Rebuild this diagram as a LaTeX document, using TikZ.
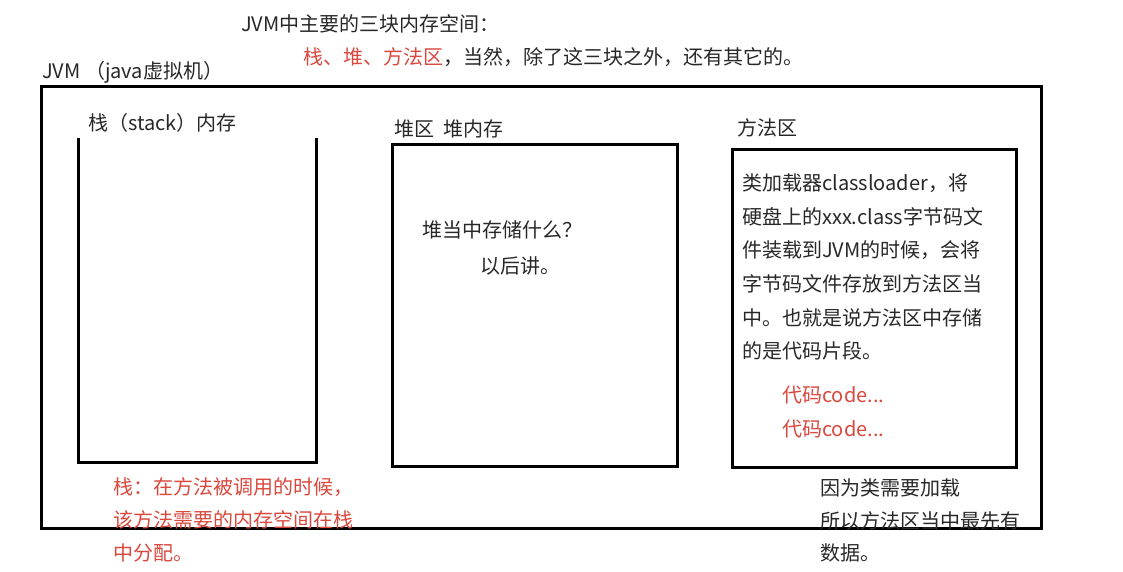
\documentclass[tikz,border=0pt]{standalone}
\usepackage{fontspec}
\setmainfont{Noto Sans CJK SC}
\definecolor{txt}{RGB}{40,40,40}
\definecolor{hl}{RGB}{218,72,62}
\begin{document}
\begin{tikzpicture}[x=1pt,y=-1pt,
  frame/.style={line width=3pt,draw=black},
  lbl/.style={anchor=base west,inner sep=0pt,text=txt,font=\fontsize{20}{24}\selectfont},
  redlbl/.style={lbl,text=hl}]
\useasboundingbox[fill=white] (0,0) rectangle (1123,572);
% frames
\draw[frame] (41,87) rectangle (1041,528);
\draw[frame] (78,138) -- (78,462) -- (316,462) -- (316,138);
\draw[frame] (392,145) rectangle (677,466);
\draw[frame] (732,150) rectangle (1016,467);
% labels
\node[lbl] (t1) at (241,32) {JVM中主要的三块内存空间：};
\node[lbl] (t2) at (303,65) {\textcolor{hl}{栈、堆、方法区}，当然，除了这三块之外，还有其它的。};
\node[lbl] (jvm) at (42,79) {JVM （java虚拟机）};
\node[lbl] (stk) at (88,131) {栈（stack）内存};
\node[lbl] (heap) at (394,137) {堆区\ \ 堆内存};
\node[lbl] (meth) at (737,136) {方法区};
\node[lbl] (hq) at (422,237) {堆当中存储什么？};
\node[lbl] (hl2) at (480,273) {以后讲。};
\node[lbl] (m1) at (742,190) {类加载器classloader，将};
\node[lbl] (m2) at (742,224) {硬盘上的xxx.class字节码文};
\node[lbl] (m3) at (742,257) {件装载到JVM的时候，会将};
\node[lbl] (m4) at (742,291) {字节码文件存放到方法区当};
\node[lbl] (m5) at (742,325) {中。也就是说方法区中存储};
\node[lbl] (m6) at (742,358) {的是代码片段。};
\node[redlbl] (c1) at (782,402) {代码code...};
\node[redlbl] (c2) at (782,436) {代码code...};
\node[lbl] (w1) at (820,495) {因为类需要加载};
\node[lbl] (w2) at (820,528) {所以方法区当中最先有};
\node[lbl] (w3) at (820,560) {数据。};
\node[redlbl] (s1) at (113,494) {栈：在方法被调用的时候，};
\node[redlbl] (s2) at (113,527) {该方法需要的内存空间在栈};
\node[redlbl] (s3) at (113,560) {中分配。};
\end{tikzpicture}
\end{document}
